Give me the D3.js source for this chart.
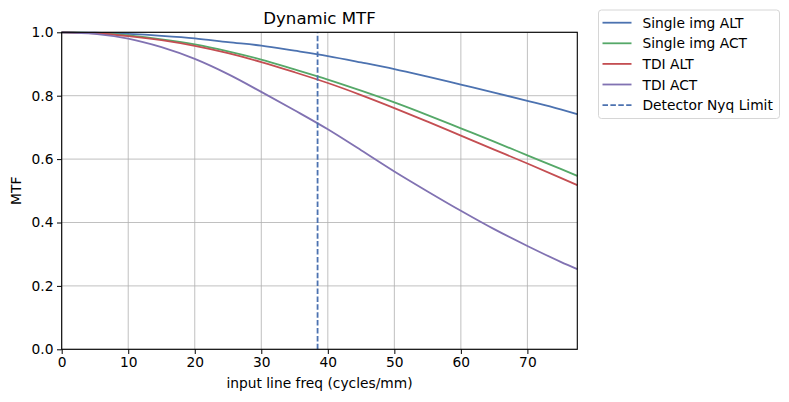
<!DOCTYPE html>
<html>
<head>
<meta charset="utf-8">
<script src="https://cdn.jsdelivr.net/npm/d3@7"></script>
<style>
  body { margin: 0; background: #fff; }
  svg text { font-family: "DejaVu Sans", sans-serif; fill: #000; }
</style>
</head>
<body>
<div id="chart"></div>
<script>
// spatial frequencies (cycles/mm) the curves were read at
var freqs = [0, 5, 10, 15, 20, 25, 30, 35, 40, 45, 50, 55, 60, 65, 70, 75, 77.5];
// MTF values
var singleAlt = [1.000, 0.999, 0.995, 0.989, 0.981, 0.969, 0.958, 0.942, 0.925, 0.905, 0.884, 0.860, 0.835, 0.810, 0.784, 0.757, 0.742];
var singleAct = [1.000, 0.998, 0.990, 0.978, 0.962, 0.940, 0.914, 0.883, 0.851, 0.816, 0.779, 0.739, 0.697, 0.655, 0.612, 0.569, 0.547];
var tdiAlt = [1.000, 0.997, 0.988, 0.975, 0.957, 0.934, 0.906, 0.874, 0.840, 0.802, 0.761, 0.718, 0.674, 0.630, 0.586, 0.541, 0.518];
var tdiAct = [1.000, 0.995, 0.980, 0.953, 0.916, 0.868, 0.812, 0.754, 0.694, 0.628, 0.561, 0.498, 0.437, 0.379, 0.326, 0.276, 0.253];
var nyqLimit = 38.46;
var xTicks = [0, 10, 20, 30, 40, 50, 60, 70];
var yTicks = [0.0, 0.2, 0.4, 0.6, 0.8, 1.0];

var series = [
    { name: "Single img ALT", values: singleAlt, color: "#4c72b0" },
    { name: "Single img ACT", values: singleAct, color: "#55a868" },
    { name: "TDI ALT", values: tdiAlt, color: "#c44e52" },
    { name: "TDI ACT", values: tdiAct, color: "#8172b2" }
];

var svg = d3.select("#chart").append("svg").attr("width", 789).attr("height", 402);

// plot area
var pLeft = 61.7, pRight = 577.3, pTop = 32.3, pBottom = 349.3;
var fs = 13.8;

var x_scale = d3.scaleLinear().domain([0, 77.5]).range([pLeft, pRight]);
var y_scale = d3.scaleLinear().domain([0, 1]).range([pBottom, pTop]);

// grid
var grid = svg.append("g");
grid.selectAll("line.vx")
    .data(xTicks)
    .enter().append("line")
    .attr("x1", function (d) { return x_scale(d); })
    .attr("x2", function (d) { return x_scale(d); })
    .attr("y1", pTop).attr("y2", pBottom)
    .style("stroke", "#b0b0b0").style("stroke-width", 0.8);
grid.selectAll("line.hy")
    .data(yTicks)
    .enter().append("line")
    .attr("x1", pLeft).attr("x2", pRight)
    .attr("y1", function (d) { return y_scale(d); })
    .attr("y2", function (d) { return y_scale(d); })
    .style("stroke", "#b0b0b0").style("stroke-width", 0.8);

// curves
var line = d3.line()
    .x(function (d) { return x_scale(d[0]); })
    .y(function (d) { return y_scale(d[1]); })
    .curve(d3.curveMonotoneX);

var plot = svg.append("g");
series.forEach(function (s) {
    plot.append("path")
        .datum(freqs.map(function (f, i) { return [f, s.values[i]]; }))
        .attr("d", line)
        .style("fill", "none")
        .style("stroke", s.color)
        .style("stroke-width", 1.8);
});

// nyquist line
plot.append("line")
    .attr("x1", x_scale(nyqLimit)).attr("x2", x_scale(nyqLimit))
    .attr("y1", y_scale(0)).attr("y2", y_scale(1))
    .style("stroke", "#4c72b0")
    .style("stroke-width", 1.8)
    .style("stroke-dasharray", "5.5,2.4");

// axes
var x_axis = d3.axisBottom(x_scale).tickValues(xTicks).tickSize(4.7).tickPadding(3.5).tickFormat(d3.format("d"));
var y_axis = d3.axisLeft(y_scale).tickValues(yTicks).tickSize(4.7).tickPadding(3.5).tickFormat(d3.format(".1f"));

var gx = svg.append("g").attr("transform", "translate(0," + pBottom + ")").call(x_axis);
var gy = svg.append("g").attr("transform", "translate(" + pLeft + ",0)").call(y_axis);
[gx, gy].forEach(function (g) {
    g.select(".domain").remove();
    g.selectAll("line").style("stroke", "#000").style("stroke-width", 1);
    g.selectAll("text").style("font-size", fs + "px").style("font-family", "DejaVu Sans, sans-serif");
});

// frame
svg.append("rect")
    .attr("x", pLeft).attr("y", pTop)
    .attr("width", pRight - pLeft).attr("height", pBottom - pTop)
    .style("fill", "none").style("stroke", "#000").style("stroke-width", 1.1);

// labels
svg.append("text")
    .attr("x", (pLeft + pRight) / 2).attr("y", 24)
    .attr("text-anchor", "middle")
    .style("font-size", "16.6px")
    .text("Dynamic MTF");
svg.append("text")
    .attr("x", (pLeft + pRight) / 2).attr("y", 388)
    .attr("text-anchor", "middle")
    .style("font-size", fs + "px")
    .text("input line freq (cycles/mm)");
svg.append("text")
    .attr("transform", "translate(21," + ((pTop + pBottom) / 2) + ")rotate(-90)")
    .attr("text-anchor", "middle")
    .style("font-size", fs + "px")
    .text("MTF");

// legend
var legend = svg.append("g");
legend.append("rect")
    .attr("x", 598.5).attr("y", 10)
    .attr("width", 181).attr("height", 108.5)
    .attr("rx", 3)
    .style("fill", "#fff").style("stroke", "#d6d6d6").style("stroke-width", 1);

var legendItems = series.map(function (s) { return { name: s.name, color: s.color, dash: null }; });
legendItems.push({ name: "Detector Nyq Limit", color: "#4c72b0", dash: "5.5,2.4" });

legendItems.forEach(function (it, i) {
    var cy = 22.7 + i * 20.6;
    legend.append("line")
        .attr("x1", 602.5).attr("x2", 631.5)
        .attr("y1", cy).attr("y2", cy)
        .style("stroke", it.color).style("stroke-width", 1.8)
        .style("stroke-dasharray", it.dash);
    legend.append("text")
        .attr("x", 642.5).attr("y", cy + 5)
        .style("font-size", fs + "px")
        .text(it.name);
});
</script>
</body>
</html>
